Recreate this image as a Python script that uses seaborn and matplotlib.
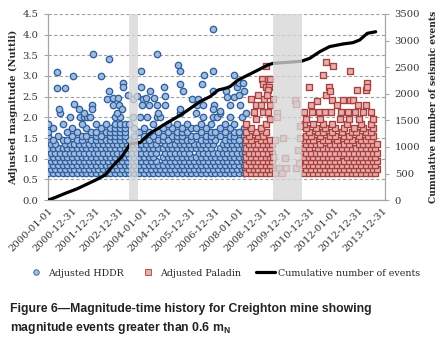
import numpy as np
import pandas as pd
import seaborn as sns
import matplotlib.pyplot as plt
from matplotlib.lines import Line2D

sns.set_style("white")
plt.rcParams['font.family'] = ['DejaVu Serif']

# ---------------- data ----------------
tick_labels = ['2000-01-01', '2000-12-31', '2001-12-31', '2002-12-31', '2004-01-01',
               '2004-12-31', '2005-12-31', '2006-12-31', '2008-01-01', '2008-12-31',
               '2009-12-31', '2010-12-31', '2012-01-01', '2012-12-31', '2013-12-31']

gap_periods = [(2003.40, 2003.77), (2009.41, 2010.62)]

# HDDR (blue circles): rows of magnitude -> event dates (decimal years)
h_even = [2000.0, 2000.2, 2000.4, 2000.6, 2000.8, 2001.0, 2001.2, 2001.4, 2001.6, 2001.8,
          2002.0, 2002.2, 2002.4, 2002.6, 2002.8, 2003.0, 2003.2, 2003.4, 2003.6, 2003.8,
          2004.0, 2004.2, 2004.4, 2004.6, 2004.8, 2005.0, 2005.2, 2005.4, 2005.6, 2005.8,
          2006.0, 2006.2, 2006.4, 2006.6, 2006.8, 2007.0, 2007.2, 2007.4, 2007.6, 2007.8,
          2008.0, 2008.2]
h_odd = [2000.1, 2000.3, 2000.5, 2000.7, 2000.9, 2001.1, 2001.3, 2001.5, 2001.7, 2001.9,
         2002.1, 2002.3, 2002.5, 2002.7, 2002.9, 2003.1, 2003.3, 2003.5, 2003.7, 2003.9,
         2004.1, 2004.3, 2004.5, 2004.7, 2004.9, 2005.1, 2005.3, 2005.5, 2005.7, 2005.9,
         2006.1, 2006.3, 2006.5, 2006.7, 2006.9, 2007.1, 2007.3, 2007.5, 2007.7, 2007.9,
         2008.1, 2008.25]
h_095 = [y for y in h_odd if y not in (2004.7,)]
h_105 = [y for y in h_even if y not in (2004.6,)]
h_115 = [y for y in h_odd if y not in (2004.7, 2006.1)]
h_125 = [y for y in h_even if y not in (2007.0,)]
h_135 = [y for y in h_odd if y not in (2000.5, 2004.7, 2007.1)]
h_145 = [2000.2, 2000.6, 2000.8, 2001.2, 2001.4, 2001.8, 2002.0, 2002.2, 2002.4, 2002.6,
         2002.8, 2003.0, 2003.2, 2003.4, 2003.6, 2004.0, 2004.2, 2004.6, 2004.8, 2005.0,
         2005.4, 2005.6, 2005.8, 2006.0, 2006.4, 2006.6, 2006.8, 2007.0, 2007.4, 2007.6,
         2007.8, 2008.0]
h_155 = [2000.0, 2000.4, 2001.0, 2001.4, 2001.6, 2002.0, 2002.2, 2002.6, 2002.8, 2003.0,
         2003.2, 2003.6, 2004.0, 2004.4, 2004.8, 2005.2, 2005.4, 2005.6, 2006.0, 2006.2,
         2006.6, 2006.8, 2007.2, 2007.6, 2007.8, 2008.2]
h_165 = [2000.0, 2000.8, 2001.2, 2001.8, 2002.0, 2002.4, 2002.6, 2002.8, 2003.0, 2003.2,
         2003.8, 2004.2, 2004.6, 2005.0, 2005.4, 2005.6, 2005.8, 2006.4, 2006.8, 2007.0,
         2007.4, 2007.8, 2008.0]
h_175 = [2000.2, 2001.0, 2001.6, 2002.2, 2002.6, 2002.8, 2003.0, 2003.2, 2003.6, 2004.0,
         2004.8, 2005.2, 2005.6, 2006.0, 2006.2, 2006.6, 2007.2, 2007.6, 2008.2]
h_185 = [2000.0, 2000.6, 2001.4, 2002.0, 2002.4, 2002.8, 2003.0, 2003.2, 2003.4, 2004.4,
         2005.0, 2005.4, 2005.8, 2006.4, 2006.8, 2007.4, 2007.8]
h_200 = [2000.92, 2001.34, 2001.48, 2001.62, 2001.76, 2002.8, 2003.0, 2003.84, 2004.12,
         2004.54, 2004.68, 2006.5, 2006.9, 2007.05, 2007.6, 2008.1]
h_210 = [2000.5, 2001.5, 2002.9, 2004.6, 2005.5, 2006.2, 2007.2, 2008.3]

hddr_rows = {0.65: h_even, 0.75: h_odd, 0.85: h_even, 0.95: h_095, 1.05: h_105,
             1.15: h_115, 1.25: h_125, 1.35: h_135, 1.45: h_145, 1.55: h_155,
             1.65: h_165, 1.75: h_175, 1.85: h_185, 2.00: h_200, 2.10: h_210}

hddr_out_year = [2000.38, 2000.38, 2000.72, 2000.47, 2001.02, 2001.07, 2001.27, 2001.84,
                 2001.83, 2001.89, 2002.21, 2002.56, 2002.55, 2002.45, 2002.73, 2002.91,
                 2002.73, 2002.97, 2003.12, 2003.12, 2003.10, 2003.36, 2003.57, 2003.70,
                 2003.57, 2003.90, 2003.90, 2003.98, 2004.08, 2004.43, 2003.94, 2004.22,
                 2004.25, 2004.55, 2004.54, 2004.83, 2004.88, 2004.90, 2005.42, 2005.53,
                 2005.52, 2005.66, 2005.52, 2006.04, 2006.28, 2006.21, 2006.49, 2006.46,
                 2006.52, 2006.90, 2006.90, 2006.92, 2006.94, 2006.90, 2007.21, 2007.45,
                 2007.48, 2007.78, 2007.77, 2007.91, 2007.97, 2007.98, 2008.14, 2008.20,
                 2008.02, 2007.60]
hddr_out_mag = [3.10, 2.70, 2.70, 2.20, 3.00, 2.33, 2.20, 2.30,
                2.20, 3.52, 3.00, 3.42, 2.64, 2.44, 2.46, 2.46,
                2.30, 2.30, 2.82, 2.73, 2.20, 2.53, 2.45, 2.52,
                2.00, 3.12, 2.74, 2.44, 2.46, 2.46, 2.30, 2.30,
                2.64, 3.54, 2.30, 2.74, 2.30, 2.52, 3.26, 3.12,
                2.81, 2.64, 2.20, 2.45, 2.45, 2.30, 2.30, 2.81,
                3.02, 4.13, 3.12, 2.64, 2.30, 2.20, 2.16, 2.63,
                2.50, 2.50, 3.03, 2.74, 2.82, 2.54, 2.82, 2.63,
                2.30, 2.30]

# Paladin (red squares)
pa_even = [2008.3, 2008.5, 2008.7, 2008.9, 2009.1, 2009.3]
pa_odd = [2008.4, 2008.6, 2008.8, 2009.0, 2009.2, 2009.35]
pb_even = [2010.7, 2010.9, 2011.1, 2011.3, 2011.5, 2011.7, 2011.9, 2012.1, 2012.3, 2012.5,
           2012.7, 2012.9, 2013.1, 2013.3, 2013.5, 2013.7]
pb_odd = [2010.8, 2011.0, 2011.2, 2011.4, 2011.6, 2011.8, 2012.0, 2012.2, 2012.4, 2012.6,
          2012.8, 2013.0, 2013.2, 2013.4, 2013.6, 2013.75]
p_105 = pa_even + [y for y in pb_even if y not in (2012.3,)]
p_125 = pa_even + [y for y in pb_even if y not in (2011.1,)]
p_135 = pa_odd + [y for y in pb_odd if y not in (2011.6, 2012.8)]
p_145 = [2008.3, 2008.5, 2008.9, 2009.1, 2009.3, 2010.7, 2010.9, 2011.1, 2011.5, 2011.7,
         2012.1, 2012.5, 2012.7, 2013.1, 2013.3, 2013.5]
p_155 = [2008.4, 2008.8, 2009.0, 2010.8, 2011.0, 2011.4, 2011.8, 2012.0, 2012.4, 2012.6,
         2013.0, 2013.4, 2013.6]
p_165 = [2008.3, 2008.7, 2009.1, 2010.9, 2011.3, 2011.5, 2011.9, 2012.3, 2012.7, 2012.9,
         2013.3, 2013.5]
p_175 = [2008.5, 2008.9, 2010.8, 2011.2, 2011.6, 2012.0, 2012.4, 2012.8, 2013.2, 2013.6]
p_185 = [2008.3, 2009.1, 2010.7, 2011.1, 2011.5, 2011.9, 2012.5, 2013.1, 2013.5]
p_195 = [2008.7, 2009.3, 2010.8, 2011.4, 2012.2, 2012.6, 2013.0, 2013.6]
p_214 = [2008.6, 2009.0, 2009.2, 2010.7, 2011.05, 2011.35, 2011.6, 2011.85, 2012.25,
         2012.55, 2012.85, 2013.2, 2013.5]

paladin_rows = {0.65: pa_even + pb_even, 0.75: pa_odd + pb_odd, 0.85: pa_even + pb_even,
                0.95: pa_odd + pb_odd, 1.05: p_105, 1.15: pa_odd + pb_odd, 1.25: p_125,
                1.35: p_135, 1.45: p_145, 1.55: p_155, 1.65: p_165, 1.75: p_175,
                1.85: p_185, 1.95: p_195, 2.14: p_214}

paladin_out_year = [2008.50, 2008.70, 2008.95, 2009.05, 2009.10, 2009.00, 2009.10, 2009.20,
                    2009.25, 2009.20, 2009.30, 2009.40, 2008.80, 2009.15, 2008.90, 2009.30,
                    2009.41, 2009.49, 2009.65, 2009.77, 2009.83, 2009.93, 2009.97, 2010.39,
                    2010.46, 2009.56, 2009.60, 2010.32, 2010.39, 2010.50, 2010.55, 2010.55,
                    2009.50, 2010.92, 2011.27, 2011.50, 2011.63, 2011.65, 2011.76, 2011.78,
                    2011.91, 2011.90, 2012.34, 2012.62, 2012.63, 2012.76, 2012.94, 2013.32,
                    2013.36, 2013.36, 2012.95, 2013.30, 2011.00, 2012.10]
paladin_out_mag = [2.44, 2.30, 2.93, 2.44, 3.23, 2.80, 2.73, 2.93,
                   2.73, 2.65, 2.93, 2.44, 2.55, 2.55, 2.30, 2.30,
                   1.05, 0.65, 0.77, 0.65, 1.49, 1.01, 0.77, 0.77,
                   1.21, 2.11, 2.02, 2.42, 2.32, 0.90, 1.50, 1.80,
                   1.45, 2.73, 2.40, 3.03, 3.33, 2.53, 2.74, 2.64,
                   3.23, 2.43, 2.43, 2.43, 3.13, 2.43, 2.65, 2.65,
                   2.82, 2.74, 2.30, 2.30, 2.30, 2.30]

# Cumulative number of events
cum_year = [2000.0, 2000.3, 2000.71, 2001.2, 2001.69, 2002.0, 2002.38, 2002.7, 2003.08,
            2003.36, 2003.43, 2003.84, 2004.26, 2004.82, 2005.2, 2005.65, 2006.35, 2006.77,
            2007.12, 2007.4, 2007.6, 2007.95, 2008.37, 2008.79, 2009.2, 2009.41, 2010.6,
            2010.95, 2011.37, 2011.78, 2012.34, 2012.76, 2013.04, 2013.36, 2013.71]
cum_count = [0, 50, 126, 210, 314, 380, 470, 640, 815, 1003, 1060, 1080, 1254, 1411, 1510,
             1630, 1850, 1944, 2070, 2100, 2130, 2258, 2352, 2446, 2540, 2570, 2610, 2665,
             2790, 2885, 2935, 2960, 3010, 3135, 3165]


def to_days(y):
    return (np.asarray(y, dtype=float) - 2000.0) * 365.25


def build(rows, oy, om):
    yrs, mags = [], []
    for m, ys in rows.items():
        yrs += list(ys)
        mags += [m] * len(ys)
    yrs += list(oy)
    mags += list(om)
    return pd.DataFrame({'day': to_days(yrs), 'mag': mags})


hddr = build(hddr_rows, hddr_out_year, hddr_out_mag)
paladin = build(paladin_rows, paladin_out_year, paladin_out_mag)
cum = pd.DataFrame({'day': to_days(cum_year), 'count': cum_count})

# ---------------- drawing ----------------
fig = plt.figure(figsize=(4.42, 3.48), dpi=100)
ax = fig.add_axes([0.109, 0.425, 0.762, 0.535])
ax2 = ax.twinx()

blue_face, blue_edge = '#9fbbe0', '#2f5f9c'
red_face, red_edge = '#e8aeae', '#a8403e'

sns.scatterplot(data=hddr, x='day', y='mag', ax=ax, marker='o', s=21,
                color=blue_face, edgecolor=blue_edge, linewidth=0.95, legend=False, zorder=3)
sns.scatterplot(data=paladin, x='day', y='mag', ax=ax, marker='s', s=22,
                color=red_face, edgecolor=red_edge, linewidth=0.95, legend=False, zorder=3)
sns.lineplot(data=cum, x='day', y='count', ax=ax2, color='black', linewidth=2.3,
             legend=False, zorder=2)
for a, b in gap_periods:
    ax2.axvspan(to_days(a), to_days(b), color='#d6d6d6', alpha=0.78, lw=0, zorder=4)

xmax = 14 * 365 + 40
ax.set_xlim(0, xmax)
ax.set_ylim(0, 4.5)
ax2.set_ylim(0, 3500)
ax.set_xticks([k * 365 for k in range(15)])
ax.set_xticklabels(tick_labels, rotation=45, ha='right', rotation_mode='anchor')
ax.set_yticks(np.arange(0, 4.51, 0.5))
ax.set_yticklabels([f'{v:.1f}' for v in np.arange(0, 4.51, 0.5)])
ax2.set_yticks(np.arange(0, 3501, 500))

ax.set_axisbelow(True)
ax.yaxis.grid(True, linestyle=(0, (3, 2)), color='#a0a0a0', linewidth=0.8)
ax.xaxis.grid(False)

gray = '#a6a6a6'
for a in (ax, ax2):
    for s in a.spines.values():
        s.set_visible(False)
ax.spines['left'].set_visible(True)
ax.spines['bottom'].set_visible(True)
ax2.spines['right'].set_visible(True)
for s in (ax.spines['left'], ax.spines['bottom'], ax2.spines['right']):
    s.set_color(gray)
    s.set_linewidth(0.9)

tick_kw = dict(labelsize=7.2, colors='#333333', length=3, width=0.8, color=gray, direction='out')
ax.tick_params(axis='x', pad=1, **tick_kw)
ax.tick_params(axis='y', left=True, pad=4, **tick_kw)
ax2.tick_params(axis='y', right=True, pad=4, **tick_kw)
for lab in ax.get_xticklabels() + ax.get_yticklabels() + ax2.get_yticklabels():
    lab.set_color('#333333')

ax.set_xlabel('')
ax.set_ylabel('Adjusted magnitude (Nuttli)', fontsize=7, fontweight='bold', labelpad=3)
ax2.set_ylabel('Cumulative number of seismic events', fontsize=6.6, fontweight='bold',
               labelpad=6)

handles = [
    Line2D([], [], linestyle='none', marker='o', markersize=4, markerfacecolor=blue_face,
           markeredgecolor=blue_edge, markeredgewidth=0.6),
    Line2D([], [], linestyle='none', marker='s', markersize=4, markerfacecolor=red_face,
           markeredgecolor=red_edge, markeredgewidth=0.6),
    Line2D([], [], color='black', linewidth=2.3),
]
fig.legend(handles, ['Adjusted HDDR', 'Adjusted Paladin', 'Cumulative number of events'],
           loc='center', bbox_to_anchor=(0.505, 0.215), ncol=3, frameon=False,
           fontsize=6.8, handlelength=2.0, handletextpad=0.3, columnspacing=1.6)

cap_font = ['Liberation Sans Narrow', 'Liberation Sans', 'DejaVu Sans']
fig.text(0.022, 0.112, 'Figure 6\u2014Magnitude-time history for Creighton mine showing',
         fontsize=8.8, fontweight='bold', family=cap_font, va='center', ha='left', color='#222222')
fig.text(0.022, 0.057, r'magnitude events greater than 0.6 m$_{\mathregular{N}}$',
         fontsize=8.8, fontweight='bold', family=cap_font, va='center', ha='left', color='#222222')

fig.savefig('out.png', dpi=100)
